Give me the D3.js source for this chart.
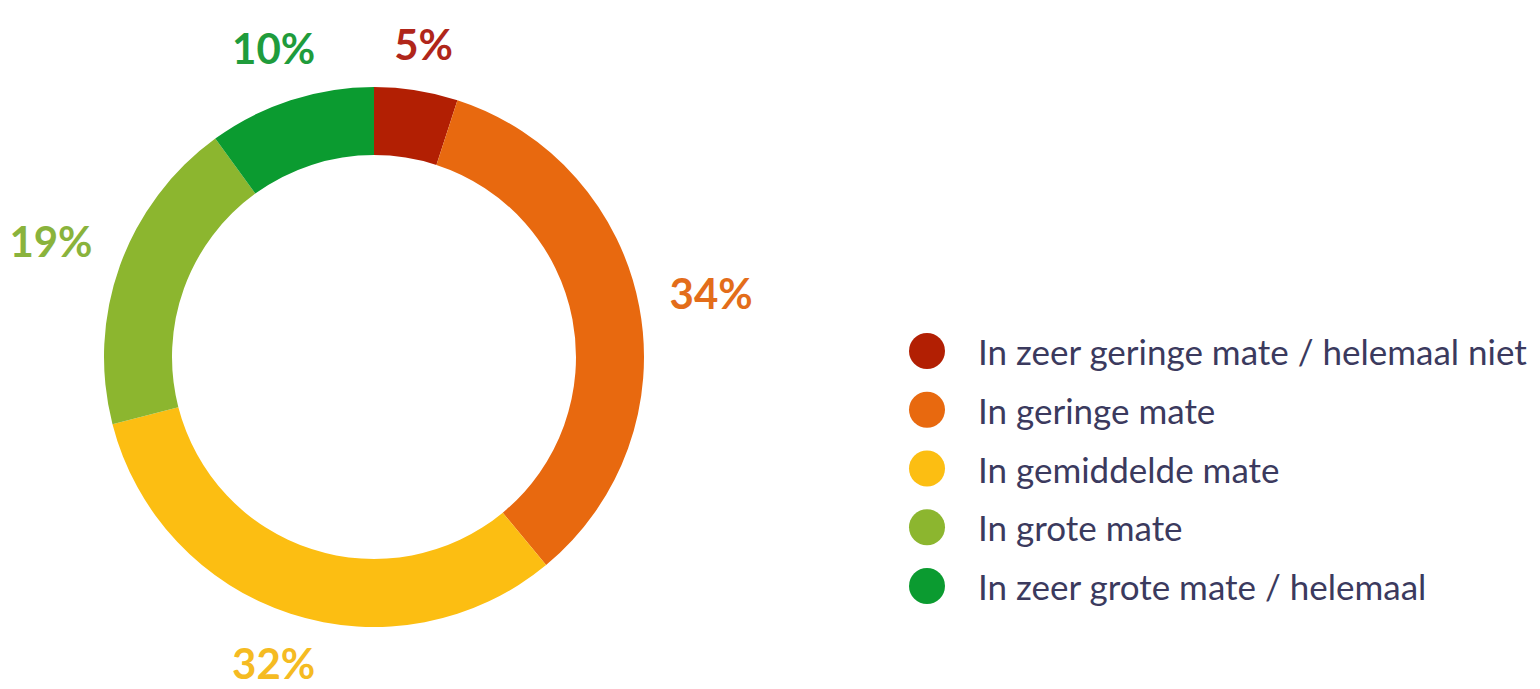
<!DOCTYPE html>
<html lang="nl">
<head>
<meta charset="UTF-8"/>
<script src="https://d3js.org/d3.v7.min.js"></script>
<style>
  body { margin: 0; background: #fff; }
</style>
</head>
<body>
<svg width="1540" height="689"></svg>
<script>
// data
var categories = [
  "In zeer geringe mate / helemaal niet",
  "In geringe mate",
  "In gemiddelde mate",
  "In grote mate",
  "In zeer grote mate / helemaal"
];
var values = [5, 34, 32, 19, 10];
var labels = ["5%", "34%", "32%", "19%", "10%"];
var colors = ["#b21f03", "#e8690f", "#fcbe12", "#8cb62f", "#0b9b30"];
var labelColors = ["#b0261a", "#e36d1a", "#f5bb22", "#8ab33c", "#1f9c3c"];

var svg = d3.select("svg");
var height = 689, cx = 374, cy = 357;

var outerR = 270, innerR = 202, gap = 30;

// donut
var pie = d3.pie().sort(null).value(function(d){ return d; });
var arc = d3.arc().innerRadius(innerR).outerRadius(outerR);

var g = svg.append("g").attr("transform", "translate(" + cx + "," + cy + ")");

var arcs = g.selectAll(".slice")
  .data(pie(values))
  .enter()
  .append("g")
  .attr("class", "slice");

arcs.append("path")
  .attr("fill", function(d, i){ return colors[i]; })
  .attr("d", arc);

// outside-end labels: box edge sits a fixed gap outside the ring
arcs.append("text")
  .attr("text-anchor", "middle")
  .attr("dominant-baseline", "central")
  .attr("font-family", "Lato, 'Open Sans', sans-serif")
  .attr("font-weight", "bold")
  .attr("font-size", 42)
  .attr("fill", function(d, i){ return labelColors[i]; })
  .text(function(d, i){ return labels[i]; })
  .attr("transform", function(d){
    var b = this.getBBox();
    var a = (d.startAngle + d.endAngle) / 2;
    var s = Math.sin(a), c = Math.cos(a);
    var r = outerR + gap + Math.abs(s) * b.width / 2 + Math.abs(c) * b.height / 2 * 0.5;
    var y = Math.min(-c * r, height - cy - b.height / 2 - 1);
    return "translate(" + (s * r) + "," + y + ")";
  });

// legend
var legY = d3.scalePoint().domain(categories).range([351, 586]);

var leg = svg.append("g").selectAll(".leg")
  .data(categories)
  .enter()
  .append("g")
  .attr("class", "leg")
  .attr("transform", function(d){ return "translate(927," + legY(d) + ")"; });

leg.append("circle")
  .attr("r", 18)
  .attr("fill", function(d, i){ return colors[i]; });

leg.append("text")
  .attr("x", 51)
  .attr("dominant-baseline", "central")
  .attr("font-family", "Lato, 'Open Sans', sans-serif")
  .attr("font-size", 35)
  .attr("fill", "#3b3a5e")
  .text(function(d){ return d; });
</script>
</body>
</html>
